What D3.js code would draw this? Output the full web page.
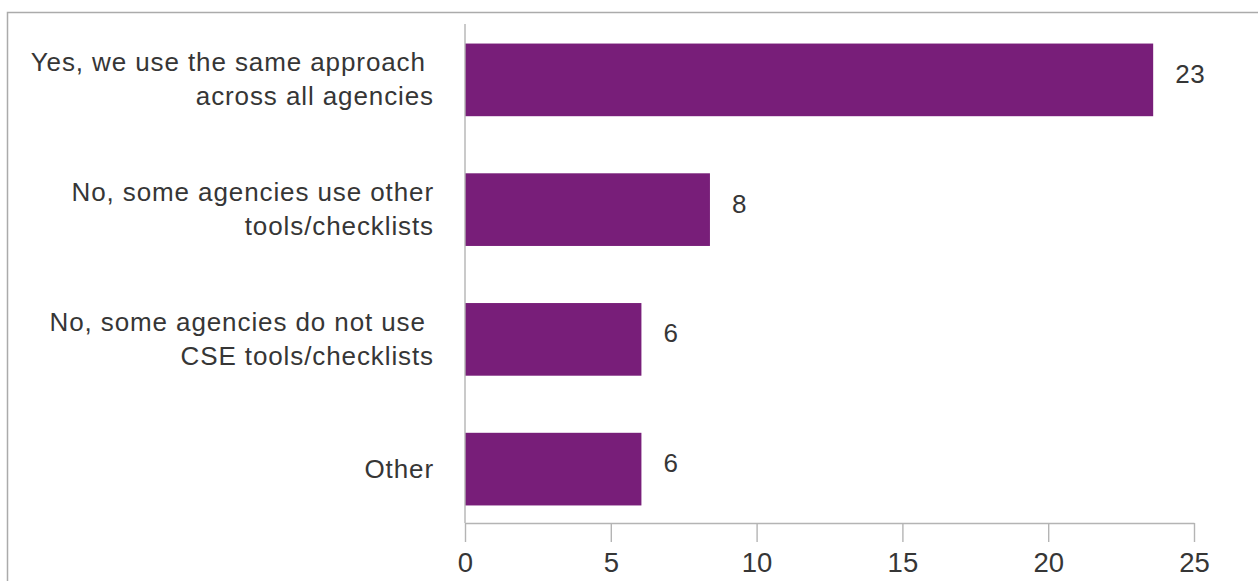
<!DOCTYPE html>
<html>
<head>
<meta charset="utf-8">
<script src="https://cdn.jsdelivr.net/npm/d3@7"></script>
<style>
  html, body { margin: 0; padding: 0; background: #fff; }
  svg { display: block; }
  text { font-family: "Liberation Sans", Arial, Helvetica, sans-serif; fill: #363636; }
</style>
</head>
<body>
<svg id="chart" width="1258" height="581"></svg>
<script>
// ---- data ----
const categories = [
  ["Yes, we use the same approach ", "across all agencies"],
  ["No, some agencies use other", "tools/checklists"],
  ["No, some agencies do not use ", "CSE tools/checklists"],
  ["Other"]
];
const values = [23.6, 8.4, 6.05, 6.05];
const valueLabels = ["23", "8", "6", "6"];
const xTicks = [0, 5, 10, 15, 20, 25];

// ---- layout ----
const svg = d3.select("#chart");
const W = 1258, H = 581;
const x0 = 465, x1 = 1194;
const axisY = 523;
const fontSize = 26;

// frame
svg.append("path")
  .attr("d", `M7.5,${H} L7.5,12.5 L${W},12.5`)
  .attr("fill", "none").attr("stroke", "#ababab").attr("stroke-width", 1.5);

const x = d3.scaleLinear().domain([0, 25]).range([x0, x1]);
const y = d3.scaleBand().domain(d3.range(categories.length))
  .range([15, 534]).paddingInner(0.44).paddingOuter(0.22);

// bars
svg.append("g").selectAll("rect").data(values).join("rect")
  .attr("x", x(0))
  .attr("y", (d, i) => y(i))
  .attr("width", d => x(d) - x(0))
  .attr("height", y.bandwidth())
  .attr("fill", "#781e79");

// vertical axis line
svg.append("line")
  .attr("x1", x(0)).attr("x2", x(0)).attr("y1", 24).attr("y2", axisY)
  .attr("stroke", "#b4b4b4").attr("stroke-width", 1.4);

// x axis
const xAxis = d3.axisBottom(x).tickValues(xTicks).tickSize(19).tickSizeOuter(0).tickPadding(10);
const gx = svg.append("g").attr("transform", `translate(0,${axisY})`).call(xAxis);
gx.select(".domain").attr("stroke", "#b4b4b4").attr("stroke-width", 1.4);
gx.selectAll(".tick line").attr("stroke", "#b4b4b4").attr("stroke-width", 1.4);
gx.selectAll(".tick text")
  .attr("font-size", 27.5)
  .attr("font-family", null)
  .attr("fill", "#363636");

// category labels
const lab = svg.append("g");
categories.forEach((lines, i) => {
  const cy = y(i) + y.bandwidth() / 2;
  const lineGap = 34;
  const first = cy + 8.5 - (lines.length - 1) * lineGap / 2;
  const t = lab.append("text")
    .attr("text-anchor", "end")
    .attr("font-size", fontSize)
    .attr("letter-spacing", 0.9)
    .style("white-space", "pre");
  lines.forEach((ln, k) => {
    t.append("tspan").attr("x", 434).attr("y", first + k * lineGap).text(ln);
  });
});

// value labels
svg.append("g").selectAll("text").data(values).join("text")
  .attr("x", d => x(d) + 22)
  .attr("y", (d, i) => y(i) + y.bandwidth() / 2 + 3)
  .attr("font-size", fontSize)
  .attr("letter-spacing", 0.6)
  .text((d, i) => valueLabels[i]);
</script>
</body>
</html>
